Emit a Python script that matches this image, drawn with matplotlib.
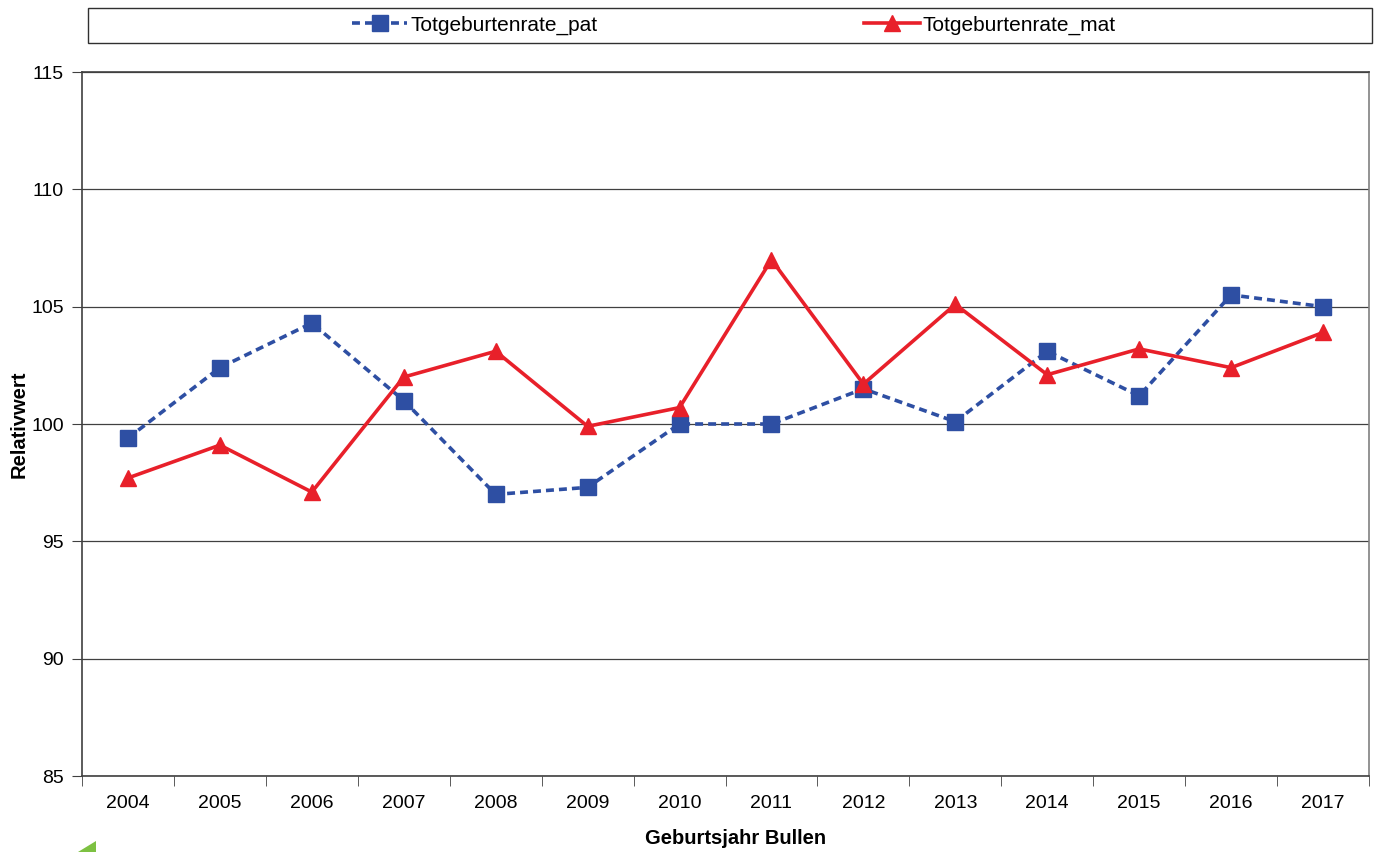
import matplotlib
matplotlib.use('Agg')
import matplotlib.pyplot as plt
from matplotlib.patches import Rectangle, Polygon
import numpy as np

plt.rcParams['font.family'] = ['Liberation Sans', 'DejaVu Sans']

years = ['2004', '2005', '2006', '2007', '2008', '2009', '2010',
         '2011', '2012', '2013', '2014', '2015', '2016', '2017']
pat = [99.4, 102.4, 104.3, 101.0, 97.0, 97.3, 100.0,
       100.0, 101.5, 100.1, 103.1, 101.2, 105.5, 105.0]
mat = [97.7, 99.1, 97.1, 102.0, 103.1, 99.9, 100.7,
       107.0, 101.7, 105.1, 102.1, 103.2, 102.4, 103.9]

blue = '#2e4fa3'
red = '#e8202a'

fig = plt.figure(figsize=(13.78, 8.52), dpi=100)
ax = fig.add_axes([82/1378, 76/852, 1287/1378, 704/852])

x = np.arange(len(years))
ax.plot(x, pat, color=blue, lw=2.6, ls=(0, (2.2, 1.4)), marker='s', ms=11,
        mec=blue, mfc=blue, label='Totgeburtenrate_pat', zorder=3)
ax.plot(x, mat, color=red, lw=2.6, marker='^', ms=11,
        mec=red, mfc=red, label='Totgeburtenrate_mat', zorder=4)

ax.set_xlim(-0.5, len(years) - 0.5)
ax.set_ylim(85, 115)
ax.set_yticks(range(85, 116, 5))
ax.set_xticks(x)
ax.set_xticklabels(years)
ax.set_xticks(np.arange(-0.5, len(years), 1), minor=True)
ax.tick_params(axis='x', which='major', length=0, labelsize=14, pad=14)
ax.tick_params(axis='x', which='minor', length=7, direction='out', color='#404040')
ax.tick_params(axis='y', length=7, direction='out', labelsize=14, color='#404040', pad=6)
ax.yaxis.grid(True, color='#404040', lw=0.9)
ax.set_axisbelow(True)
for s in ax.spines.values():
    s.set_color('#404040')
    s.set_linewidth(1.2)
ax.spines['right'].set_color('#808080')

ax.set_xlabel('Geburtsjahr Bullen', fontsize=14.5, fontweight='bold')
ax.xaxis.set_label_coords(0.508, -0.075)
ax.set_ylabel('Relativwert', fontsize=14.5, fontweight='bold', labelpad=2)

# legend box across the top
fig.patches.append(Rectangle((88/1378, 1 - 43/852), (1372-88)/1378, 35/852,
                             transform=fig.transFigure, fill=False,
                             edgecolor='#303030', lw=1.0))
fig.legend(loc='center', bbox_to_anchor=(734/1378, 1 - 25/852), ncol=2,
           frameon=False, fontsize=15, handlelength=2.65, handletextpad=0.15,
           columnspacing=12.8)

# small green corner mark bottom left
fig.patches.append(Polygon([(78/1378, 0), (96/1378, 0), (96/1378, 11/852)],
                           closed=True, transform=fig.transFigure,
                           facecolor='#7dc142', edgecolor='none'))

fig.savefig('out.png', dpi=100)
